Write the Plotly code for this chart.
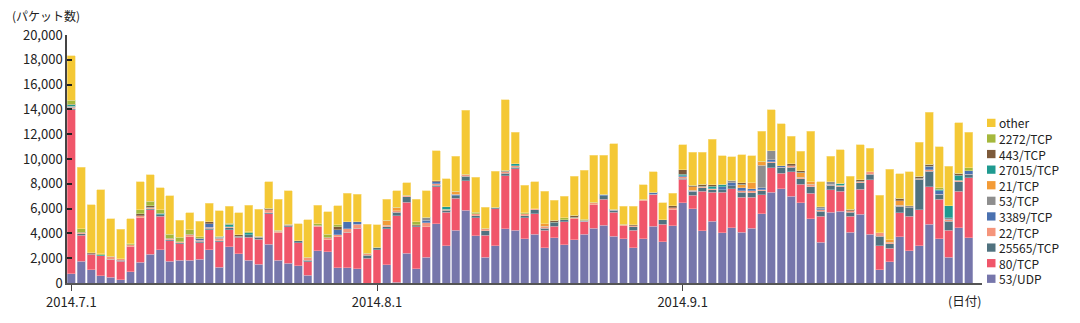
import pandas as pd
import plotly.graph_objects as go

dates = pd.date_range("2014-07-01", "2014-09-30", freq="D")
tick_dates = ["2014-07-01", "2014-08-01", "2014-09-01"]
tick_labels = ["2014.7.1", "2014.8.1", "2014.9.1"]

# stacked bottom -> top
series_names = ["53/UDP", "80/TCP", "25565/TCP", "22/TCP", "3389/TCP", "53/TCP",
                "21/TCP", "27015/TCP", "443/TCP", "2272/TCP", "other"]
colors = ["#7676AB", "#F0566A", "#50727F", "#F5957B", "#4A71B0", "#8E8E8E",
          "#F39B36", "#1F9A90", "#7D5A3A", "#A5B83C", "#F4C835"]

udp53 = [740,1750,1060,600,480,260,900,1690,2330,2700,1750,1850,1850,1900,2700,1270,2940,2350,1850,1530,3120,1850,1590,1380,610,2620,2510,1220,1220,1140,0,
         0,1460,60,2380,1140,2060,4790,3020,4260,5850,3810,2060,3020,4370,4260,3570,3940,2860,3650,3100,3470,3940,4420,4660,3780,3570,2860,3570,4580,3330,4630,
         6460,5980,4210,4970,4070,4440,4100,4420,5580,7300,7620,6980,6460,5180,3280,5690,5770,4100,5530,3940,1060,1720,3730,2620,3020,4740,3570,2090,4440,3650]
tcp80 = [13230,2110,1240,1600,1450,1490,2040,3570,3570,2670,1640,1300,1880,1350,1610,2060,1370,1330,1830,1990,2460,2200,2930,1870,1110,1900,960,2510,2880,3280,2000,
         2670,2910,5360,4120,3380,2460,2960,2690,2570,2400,1450,1800,2960,4280,4950,1690,1640,1400,930,1850,1710,1030,1880,2110,1930,1060,1400,3070,2590,1410,1270,
         1900,1110,3200,2330,3230,3180,2830,2510,1540,1990,1220,1990,1500,2070,2090,1850,1640,1270,2040,4390,1960,1080,1930,2750,2880,3040,3200,2170,2970,4840]
tcp25565 = [100,100,50,0,0,100,0,0,100,120,100,80,0,100,100,60,150,100,200,160,100,0,120,160,100,0,0,0,0,0,250,
            210,150,290,460,80,0,120,150,200,370,180,350,130,200,130,180,320,160,260,160,0,0,0,250,150,0,260,0,0,360,0,
            80,290,290,210,210,210,370,350,310,390,500,370,450,530,400,340,340,340,530,430,760,350,530,690,2460,1240,400,740,740,270]
tcp22 = [100,100,0,0,210,100,130,160,100,0,100,100,210,100,100,200,80,0,0,100,210,110,100,0,240,150,200,160,270,320,130,
         0,130,130,130,0,320,130,80,0,140,140,210,0,160,130,130,80,160,0,0,130,0,210,0,0,110,80,110,0,0,160,
         130,0,110,80,0,0,130,160,80,80,0,130,130,180,130,80,130,100,100,210,270,150,100,0,100,130,0,130,130,0]
tcp3389 = [100,0,0,0,0,0,0,0,0,0,0,0,0,150,250,120,0,0,0,0,0,0,0,0,0,0,0,420,550,210,0,
           0,0,0,0,0,210,150,0,140,0,0,0,0,0,0,0,0,0,0,0,0,0,0,150,90,0,0,0,130,0,0,
           60,100,0,0,270,260,270,150,160,200,130,0,0,0,130,0,0,0,0,0,0,0,0,0,0,270,260,0,0,310]
tcp53 = [0,0,0,0,0,0,0,0,0,0,0,0,0,0,0,0,0,0,0,0,0,0,0,0,0,0,0,0,0,0,0,
         0,0,0,0,0,270,0,0,0,0,0,0,0,0,0,0,0,0,0,0,0,80,0,0,0,0,0,0,0,0,0,
         0,0,0,0,0,190,0,0,1830,720,0,0,0,0,130,210,0,0,0,0,0,0,0,180,0,0,0,130,0,0]
tcp21 = [0,0,0,0,0,0,0,0,0,0,0,0,0,0,0,0,0,0,0,0,0,100,0,0,0,0,0,0,0,0,0,
         0,400,270,0,0,0,0,0,210,0,0,0,0,0,0,0,0,210,0,0,0,0,0,0,0,0,0,0,0,0,0,
         0,270,0,0,0,0,260,480,310,0,0,0,400,190,0,0,0,0,0,0,0,170,350,0,0,0,0,0,0,0]
tcp27015 = [100,0,0,60,0,0,0,0,0,130,0,0,0,0,0,80,200,0,180,0,0,0,0,0,0,0,0,0,0,0,0,
            0,0,0,0,0,0,0,220,0,0,0,0,0,0,160,0,0,0,50,0,0,0,0,0,0,0,0,0,0,0,0,
            130,0,0,210,180,0,0,0,0,0,0,0,0,0,0,0,160,0,0,0,0,0,0,0,0,0,130,980,400,0]
tcp443 = [50,50,80,0,0,0,0,160,130,0,0,0,0,0,200,0,0,110,0,0,130,0,0,0,0,0,0,210,0,0,0,
          0,0,0,0,100,0,100,0,0,0,0,0,0,100,0,0,0,0,160,0,140,0,0,0,0,0,80,0,0,0,160,
          390,130,150,140,0,0,130,0,0,0,0,130,130,0,0,0,0,120,110,0,0,0,210,0,160,160,0,0,180,0]
tcp2272 = [300,250,0,80,0,0,100,320,380,280,340,370,350,150,0,0,90,0,80,0,0,0,0,0,0,120,270,160,0,0,0,
           0,0,0,0,220,0,0,0,0,0,130,0,0,0,0,110,0,0,0,150,0,110,0,0,0,0,0,0,0,0,0,
           0,0,0,0,0,0,0,0,0,0,0,0,0,0,0,0,0,0,0,0,0,0,0,0,0,0,140,0,0,210]
other = [3610,4980,3870,5200,3040,2390,2010,2270,2120,1800,3120,1350,1370,1220,1490,2030,1350,1770,2150,2170,2140,2490,2690,1380,3040,1480,1800,1540,2330,2220,2360,
         1830,1720,1320,1000,1830,2110,2410,2250,2830,5180,2830,1690,2910,5660,2510,2220,2190,2590,1620,1720,3150,3940,3780,3120,5270,1450,1510,1190,1690,1360,1030,
         1990,2680,2600,3650,2300,1900,2240,2190,2410,3290,3390,2250,1540,4070,2010,2040,2700,2690,2830,1900,3040,5710,1960,2730,2730,4200,3280,3180,4050,2860]

series_values = [udp53, tcp80, tcp25565, tcp22, tcp3389, tcp53,
                 tcp21, tcp27015, tcp443, tcp2272, other]

y_ticks = [0, 2000, 4000, 6000, 8000, 10000, 12000, 14000, 16000, 18000, 20000]

FONT = "Noto Sans CJK JP, Noto Sans, sans-serif"
W, H = 1080, 323
L, R, T, B = 67, 98, 35, 36
PW, PH = W - L - R, H - T - B

def px_x(x):
    return (x - L) / PW

def px_y(y):
    return (H - B - y) / PH

def lighten(hexc, f=0.45):
    r, g, b = int(hexc[1:3], 16), int(hexc[3:5], 16), int(hexc[5:7], 16)
    r, g, b = [int(c + (255 - c) * f) for c in (r, g, b)]
    return f"rgb({r},{g},{b})"

xpos = list(range(len(dates)))
date_index = {d.strftime("%Y-%m-%d"): i for i, d in enumerate(dates)}
tickvals = [date_index[d] for d in tick_dates]

fig = go.Figure()
for name, col, vals in zip(series_names, colors, series_values):
    fig.add_trace(go.Bar(
        x=xpos, y=vals, name=name,
        marker=dict(color=col, line=dict(color=lighten(col), width=0.6)),
        showlegend=False,
        customdata=[d.strftime("%Y.%-m.%-d") for d in dates],
        hovertemplate="%{customdata}<br>" + name + ": %{y:,}<extra></extra>",
    ))

shapes = []
annotations = []
# manual legend (top item = last stacked series)
leg_top, leg_step = 124.3, 15.84
for k, (name, col) in enumerate(zip(reversed(series_names), reversed(colors))):
    yc = leg_top + k * leg_step
    shapes.append(dict(type="rect", xref="paper", yref="paper",
                       x0=px_x(987), x1=px_x(995.5), y0=px_y(yc + 4.2), y1=px_y(yc - 4.2),
                       fillcolor=col, line=dict(width=0)))
    annotations.append(dict(text=name, xref="paper", yref="paper", x=px_x(997), y=px_y(yc),
                            xanchor="left", yanchor="middle", showarrow=False,
                            font=dict(family=FONT, size=12, color="#222")))

annotations.append(dict(text="(パケット数)", xref="paper", yref="paper", x=px_x(46), y=px_y(15),
                        xanchor="center", yanchor="middle", showarrow=False,
                        font=dict(family=FONT, size=12, color="#222")))
annotations.append(dict(text="(日付)", xref="paper", yref="paper", x=px_x(964), y=px_y(305),
                        xanchor="center", yanchor="middle", showarrow=False,
                        font=dict(family=FONT, size=12.5, color="#222")))

fig.update_layout(
    width=W, height=H,
    margin=dict(l=L, r=R, t=T, b=B, pad=0),
    barmode="stack", bargap=0.19,
    plot_bgcolor="white", paper_bgcolor="white",
    font=dict(family=FONT, size=13, color="#222"),
    shapes=shapes, annotations=annotations,
    xaxis=dict(range=[-0.44, 92.36], tickvals=tickvals, ticktext=tick_labels,
               showgrid=False, zeroline=False, showline=True, linecolor="#555", linewidth=2,
               ticks="outside", ticklen=6, tickcolor="#444", tickwidth=1.2,
               tickfont=dict(family=FONT, size=13, color="#222")),
    yaxis=dict(range=[0, 20000], tickvals=y_ticks, tickformat=",d",
               showgrid=False, zeroline=False, showline=True, linecolor="#444", linewidth=1.5,
               ticks="inside", ticklen=5, tickcolor="#222", tickwidth=1.5,
               tickfont=dict(family=FONT, size=13, color="#222")),
)

fig.write_html("out.html")
